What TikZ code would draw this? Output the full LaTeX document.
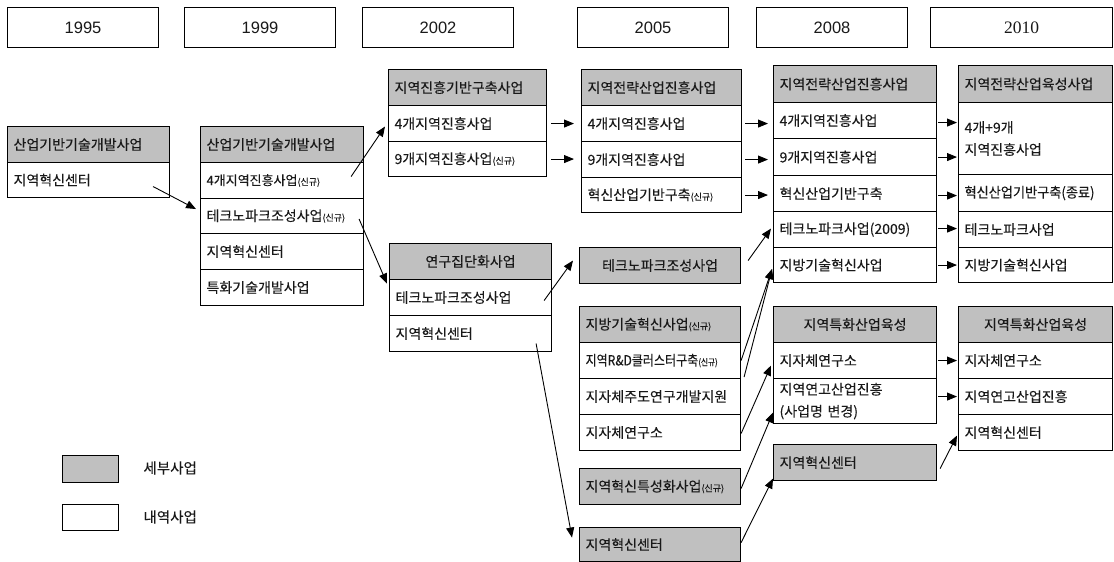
\documentclass[tikz,border=0pt]{standalone}
\usepackage{fontspec}
\newfontfamily\kr[FakeBold=0.12]{Noto Sans CJK KR}
\newfontfamily\yr{Liberation Sans}
\newfontfamily\yrs{Liberation Serif}
\usetikzlibrary{arrows.meta,calc}
\definecolor{hdrgray}{RGB}{192,192,192}
\definecolor{txt}{RGB}{25,25,25}
\newcommand\sm[1]{{\fontsize{9}{10}\selectfont #1}}
\newcommand\mkcell[7]{\pgfmathsetmacro\cellTW{#4-12}\node[cell,#6,text width=\cellTW pt,minimum height=#5pt] (#1) at (#2,#3) {#7};}
\begin{document}
\begin{tikzpicture}[x=1pt,y=-1pt,
 cell/.style={draw, line width=1.1pt, anchor=north west, inner xsep=6pt, inner ysep=0pt, align=left, font=\kr\fontsize{14}{22}\selectfont, text=txt},
 gry/.style={fill=hdrgray},
 ctr/.style={align=center},
 yearbox/.style={draw, line width=1.1pt, anchor=north west, minimum width=151pt, minimum height=40pt, inner sep=0pt, font=\yr\fontsize{16.5}{18}\selectfont, text=txt},
 arr/.style={line width=0.9pt, -{Triangle[length=10pt,width=8pt]}},
 lgtext/.style={anchor=west, font=\kr\fontsize{14.5}{16}\selectfont, text=txt}
]
\useasboundingbox (0,0) rectangle (1114,562);
% year boxes
\node[yearbox] (y1995) at (7,7) {1995};
\node[yearbox] (y1999) at (184,7) {1999};
\node[yearbox] (y2002) at (362,7) {2002};
\node[yearbox] (y2005) at (577,7) {2005};
\node[yearbox] (y2008) at (756,7) {2008};
\node[yearbox, minimum width=182pt, font=\yrs\fontsize{17.5}{18}\selectfont] (y2010) at (930,7) {2010};
% 1995
\mkcell{a95h}{7}{126}{162}{36}{gry}{산업기반기술개발사업}
\mkcell{a95r1}{7}{162}{162}{35}{}{지역혁신센터}
% 1999
\mkcell{b99h}{200}{126}{163}{36}{gry}{산업기반기술개발사업}
\mkcell{b99r1}{200}{162}{163}{36}{font=\kr\fontsize{13}{16}\selectfont}{4개지역진흥사업\sm{(신규)}}
\mkcell{b99r2}{200}{198}{163}{35}{}{테크노파크조성사업\sm{(신규)}}
\mkcell{b99r3}{200}{233}{163}{36}{}{지역혁신센터}
\mkcell{b99r4}{200}{269}{163}{36}{}{특화기술개발사업}
% 2002
\mkcell{c02h}{388}{69}{158}{36}{gry}{지역진흥기반구축사업}
\mkcell{c02r1}{388}{105}{158}{36}{}{4개지역진흥사업}
\mkcell{c02r2}{388}{141}{158}{35}{}{9개지역진흥사업\sm{(신규)}}
\mkcell{c02bh}{389}{243}{162}{36}{gry,ctr}{연구집단화사업}
\mkcell{c02br1}{389}{279}{162}{36}{}{테크노파크조성사업}
\mkcell{c02br2}{389}{315}{162}{36}{}{지역혁신센터}
% 2005
\mkcell{d05h}{581}{69}{160}{36}{gry}{지역전략산업진흥사업}
\mkcell{d05r1}{581}{105}{160}{36}{}{4개지역진흥사업}
\mkcell{d05r2}{581}{141}{160}{36}{}{9개지역진흥사업}
\mkcell{d05r3}{581}{177}{160}{35}{}{혁신산업기반구축\sm{(신규)}}
\mkcell{d05tp}{579}{247}{161}{36}{gry,ctr}{테크노파크조성사업}
\mkcell{d05lh}{579}{306}{161}{36}{gry}{지방기술혁신사업\sm{(신규)}}
\mkcell{d05l1}{579}{342}{161}{36}{}{\scalebox{0.86}[1]{지역R\&D클러스터구축\sm{(신규)}}}
\mkcell{d05l2}{579}{378}{161}{36}{}{지자체주도연구개발지원}
\mkcell{d05l3}{579}{414}{161}{36}{}{지자체연구소}
\mkcell{d05sp}{579}{468}{161}{36}{gry}{지역혁신특성화사업\sm{(신규)}}
\mkcell{d05ic}{579}{527}{161}{34}{gry}{지역혁신센터}
% 2008
\mkcell{e08h}{773}{65}{163}{37}{gry}{지역전략산업진흥사업}
\mkcell{e08r1}{773}{102}{163}{36}{}{4개지역진흥사업}
\mkcell{e08r2}{773}{138}{163}{37}{}{9개지역진흥사업}
\mkcell{e08r3}{773}{175}{163}{36}{}{혁신산업기반구축}
\mkcell{e08r4}{773}{211}{163}{36}{}{테크노파크사업(2009)}
\mkcell{e08r5}{773}{247}{163}{35}{}{지방기술혁신사업}
\mkcell{e08sh}{773}{306}{163}{36}{gry,ctr}{지역특화산업육성}
\mkcell{e08s1}{773}{342}{163}{36}{}{지자체연구소}
\mkcell{e08s2}{773}{378}{163}{45}{}{지역연고산업진흥\\(사업명 변경)}
\mkcell{e08ic}{773}{444}{163}{36}{gry}{지역혁신센터}
% 2010
\mkcell{f10h}{958}{65}{154}{37}{gry}{지역전략산업육성사업}
\mkcell{f10r1}{958}{102}{154}{72}{}{4개+9개\\지역진흥사업}
\mkcell{f10r2}{958}{174}{154}{37}{}{\scalebox{0.94}[1]{혁신산업기반구축(종료)}}
\mkcell{f10r3}{958}{211}{154}{36}{}{테크노파크사업}
\mkcell{f10r4}{958}{247}{154}{35}{}{지방기술혁신사업}
\mkcell{f10sh}{958}{306}{154}{36}{gry,ctr}{지역특화산업육성}
\mkcell{f10s1}{958}{342}{154}{36}{}{지자체연구소}
\mkcell{f10s2}{958}{378}{154}{36}{}{지역연고산업진흥}
\mkcell{f10s3}{958}{414}{154}{36}{}{지역혁신센터}
% legend
\node[draw, line width=1.1pt, fill=hdrgray, anchor=north west, minimum width=56pt, minimum height=27pt, inner sep=0pt] (lg1) at (62,455) {};
\node[draw, line width=1.1pt, anchor=north west, minimum width=56pt, minimum height=26pt, inner sep=0pt] (lg2) at (62,504) {};
\node[lgtext] (lg1t) at (140,468) {세부사업};
\node[lgtext] (lg2t) at (140,517) {내역사업};
% arrows
\draw[arr] ($(a95r1.east)+(-17,6.5)$) -- ($(b99r2.west)+(-4,-7)$);
\draw[arr] ($(b99r1.east)+(-13,-4)$) -- ($(c02r1.west)+(-3,3)$);
\draw[arr] ($(b99r2.east)+(-5,3)$) -- ($(c02br1.west)+(-2,-14)$);
\draw[arr] ($(c02r1.east)+(4,0)$) -- ($(d05r1.west |- c02r1.east)+(-7,0)$);
\draw[arr] ($(c02r2.east)+(4,0)$) -- ($(d05r2.west |- c02r2.east)+(-7,0)$);
\draw[arr] ($(c02br1.east)+(-8,3)$) -- ($(d05tp.west)+(-6,-5)$);
\draw[arr] ($(c02br2.east)+(-16,10)$) -- ($(d05ic.west)+(-7,-7)$);
\draw[arr] ($(d05r1.east)+(3,0)$) -- ($(e08r1.west |- d05r1.east)+(-5,0)$);
\draw[arr] ($(d05r2.east)+(3,0)$) -- ($(e08r2.west |- d05r2.east)+(-5,0)$);
\draw[arr] ($(d05r3.east)+(3,0)$) -- ($(e08r3.west |- d05r3.east)+(-5,0)$);
\draw[arr] ($(d05tp.east)+(7,-5)$) -- ($(e08r4.west)+(-2,-1)$);
\draw[arr] (d05l1.east) -- ($(e08r5.west)+(-1,4)$);
\draw[arr] ($(d05l2.north east)+(3,-1)$) -- ($(e08r5.west)+(-1,4)$);
\draw[arr] ($(d05l3.east)+(0,1)$) -- ($(e08s1.west)+(-2,5)$);
\draw[arr] ($(d05sp.east)+(0,2)$) -- ($(e08s2.west)+(0,11.5)$);
\draw[arr] ($(d05ic.east)+(0,-2)$) -- ($(e08ic.west)+(0,16)$);
\draw[arr] ($(e08r1.east)+(1,2)$) -- ($(f10r1.west |- e08r1.east)+(-1,2)$);
\draw[arr] ($(e08r2.east)+(1,0)$) -- ($(f10r1.west |- e08r2.east)+(-1,0)$);
\draw[arr] ($(e08r3.east)+(1,2)$) -- ($(f10r2.west |- e08r3.east)+(-1,2)$);
\draw[arr] ($(e08r4.east)+(1,-1)$) -- ($(f10r3.west |- e08r4.east)+(-1,-1)$);
\draw[arr] ($(e08r5.east)+(1,0)$) -- ($(f10r4.west |- e08r5.east)+(-1,0)$);
\draw[arr] ($(e08s1.east)+(1,0)$) -- ($(f10s1.west)+(-1,0)$);
\draw[arr] ($(e08s2.east |- f10s2.west)+(1,0)$) -- ($(f10s2.west)+(-1,0)$);
\draw[arr] ($(e08ic.east)+(3,6)$) -- ($(f10s3.west)+(-1,3)$);
\end{tikzpicture}
\end{document}
